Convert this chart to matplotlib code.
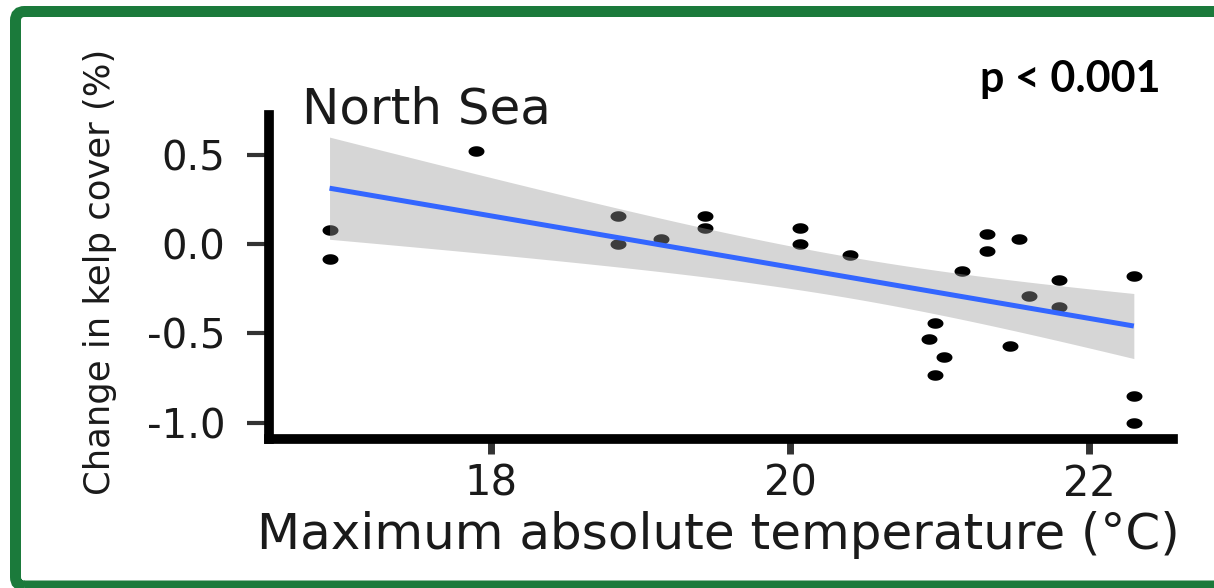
import numpy as np
import matplotlib
matplotlib.use("Agg")
import matplotlib.pyplot as plt
from matplotlib.path import Path
from matplotlib.patches import FancyBboxPatch
from matplotlib.transforms import IdentityTransform

# ---- data ----
temp = [16.92, 16.92, 17.90, 18.85, 18.85, 19.14, 19.43, 19.43, 20.07, 20.07,
        20.40, 20.97, 20.93, 21.03, 20.97, 21.15, 21.32, 21.32, 21.53, 21.47,
        21.60, 21.80, 21.80, 22.30, 22.30, 22.30]
kelp = [0.08, -0.08, 0.52, 0.16, 0.00, 0.03, 0.16, 0.09, 0.09, 0.00,
        -0.06, -0.44, -0.53, -0.63, -0.73, -0.15, 0.06, -0.04, 0.03, -0.57,
        -0.29, -0.20, -0.35, -0.18, -0.85, -1.00]
x_ticks = [18, 20, 22]
x_ticklabels = ["18", "20", "22"]
y_ticks = [0.5, 0.0, -0.5, -1.0]
y_ticklabels = ["0.5", "0.0", "-0.5", "-1.0"]
title = "North Sea"
p_text = "p < 0.001"
x_label = "Maximum absolute temperature (°C)"
y_label = "Change in kelp cover (%)"
t_crit = 2.064  # t quantile 0.975, df = n - 2 = 24

W, H = 1214, 588
fig = plt.figure(figsize=(W / 100, H / 100), dpi=100)
fig.patch.set_facecolor("white")

def fx(px):
    return px / W

def fy(py):
    return 1 - py / H

# panel in pixel coordinates (from top-left)
pl, pr, pt, pb = 269, 1173, 115, 438.5
ax = fig.add_axes([fx(pl), fy(pb), fx(pr - pl), (pb - pt) / H])
ax.set_xlim(16.515, 22.562)
ax.set_ylim(-1.0885, 0.724)

# elliptical marker (reference picture is stretched horizontally)
theta = np.linspace(0, 2 * np.pi, 40)
ell = Path(np.column_stack([np.cos(theta), 0.66 * np.sin(theta)]), closed=True)

x = np.array(temp)
y = np.array(kelp)
ax.plot(x, y, linestyle="none", marker=ell, ms=11.5, color="black",
        markeredgewidth=0, zorder=2)

# linear fit with 95% confidence band
slope, icpt = np.polyfit(x, y, 1)
xs = np.linspace(x.min(), x.max(), 80)
ys = icpt + slope * xs
n = len(x)
resid = y - (icpt + slope * x)
s = np.sqrt(np.sum(resid ** 2) / (n - 2))
se = s * np.sqrt(1 / n + (xs - x.mean()) ** 2 / np.sum((x - x.mean()) ** 2))
ax.fill_between(xs, ys - t_crit * se, ys + t_crit * se, color="#999999",
                alpha=0.4, linewidth=0, zorder=3)
ax.plot(xs, ys, color="#3366FF", linewidth=3.6, zorder=4,
        solid_capstyle="butt")

# axes styling
for side in ["top", "right"]:
    ax.spines[side].set_visible(False)
for side in ["left", "bottom"]:
    ax.spines[side].set_linewidth(7)
    ax.spines[side].set_color("black")
    ax.spines[side].set_capstyle("projecting")

ax.set_xticks(x_ticks)
ax.set_xticklabels(x_ticklabels)
ax.set_yticks(y_ticks)
ax.set_yticklabels(y_ticklabels)
ax.tick_params(axis="x", direction="out", length=10.5, width=5,
               color="#333333", pad=7, labelsize=30, labelcolor="#1a1a1a")
ax.tick_params(axis="y", direction="out", length=15.5, width=3,
               color="#333333", pad=16, labelsize=29, labelcolor="#1a1a1a")
for lab in ax.get_xticklabels() + ax.get_yticklabels():
    lab.set_fontfamily("DejaVu Sans")

# texts
fig.text(fx(302), fy(123), title, fontsize=36, family="DejaVu Sans",
         color="#1a1a1a", ha="left", va="baseline")
fig.text(fx(980), fy(92), p_text, fontsize=31, family="Lato",
         fontweight="bold", color="black", ha="left", va="baseline")
fig.text(fx(718), fy(549), x_label, fontsize=36, family="DejaVu Sans",
         color="#1a1a1a", ha="center", va="baseline")
fig.text(fx(100), fy(272), y_label, fontsize=25.5, family="DejaVu Sans",
         color="#1a1a1a", ha="center", va="center", rotation=90)

# green frame
frame = FancyBboxPatch((15.5, 2), 1224, 574.5,
                       boxstyle="round,pad=0,rounding_size=9",
                       transform=IdentityTransform(), facecolor="none",
                       edgecolor="#1b7a3b", linewidth=11 * 0.72,
                       figure=fig, zorder=10)
fig.patches.append(frame)

fig.savefig("out.png", dpi=100)
